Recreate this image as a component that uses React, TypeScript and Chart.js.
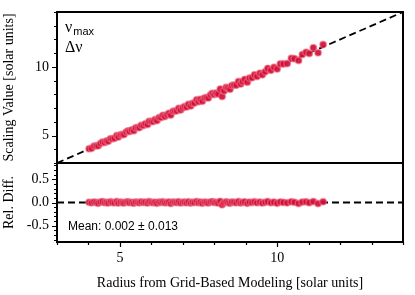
import React, { useEffect, useRef } from 'react';
import { Chart, registerables } from 'chart.js';

Chart.register(...registerables);

// Radius from grid-based modeling [solar units]
const gridRadius = [
  4.02, 4.10, 4.18, 4.25, 4.31, 4.38, 4.45, 4.52, 4.58, 4.63, 4.70, 4.76, 4.83, 4.90, 4.95,
  5.02, 5.08, 5.13, 5.20, 5.26, 5.31, 5.38, 5.44, 5.50, 5.57, 5.62, 5.68, 5.75, 5.81, 5.88, 5.93,
  6.00, 6.06, 6.12, 6.18, 6.25, 6.31, 6.37, 6.43, 6.50, 6.56, 6.62, 6.69, 6.75, 6.81, 6.87, 6.93,
  7.00, 7.06, 7.12, 7.18, 7.25, 7.31, 7.37, 7.44, 7.50, 7.56, 7.62, 7.69, 7.75, 7.81, 7.88, 7.94,
  8.00, 8.06, 8.12, 8.19, 8.25, 8.31, 8.38, 8.44, 8.50, 8.56, 8.63, 8.70, 8.77, 8.84, 8.90, 8.97,
  9.05, 9.12, 9.20, 9.28, 9.36, 9.45, 9.53, 9.62, 9.70, 9.80, 9.90,
  10.00, 10.10, 10.20, 10.32, 10.45, 10.55, 10.68, 10.80, 10.92, 11.02, 11.15, 11.30, 11.46,
];

// Scaling value [solar units]
const scalingValue = [
  4.04, 4.07, 4.23, 4.25, 4.25, 4.42, 4.53, 4.50, 4.61, 4.58, 4.77, 4.77, 4.80, 5.00, 4.89,
  5.06, 5.08, 5.08, 5.26, 5.34, 5.29, 5.41, 5.35, 5.56, 5.59, 5.58, 5.75, 5.74, 5.86, 5.81, 6.04,
  6.02, 6.03, 6.16, 6.09, 6.32, 6.32, 6.47, 6.38, 6.51, 6.62, 6.49, 6.77, 6.78, 6.80, 6.99, 6.86,
  7.02, 7.12, 7.08, 7.28, 7.16, 7.35, 7.37, 7.60, 7.47, 7.64, 7.50, 7.74, 7.77, 7.74, 7.97, 8.08,
  7.99, 8.10, 8.03, 8.39, 7.84, 8.25, 8.51, 8.46, 8.38, 8.65, 8.68, 8.67, 8.94, 8.75, 8.94, 9.09,
  8.89, 9.19, 9.21, 9.43, 9.30, 9.54, 9.42, 9.65, 9.89, 9.75, 9.97,
  9.85, 10.22, 10.22, 10.24, 10.63, 10.60, 10.47, 10.90, 11.07, 10.98, 11.40, 11.03, 11.63,
];

// Relative difference
const relDiff = [
  0.004, -0.008, 0.012, 0.001, -0.015, 0.009, 0.018, -0.004, 0.006, -0.011, 0.014, 0.002, -0.006, 0.020, -0.013,
  0.007, 0.000, -0.009, 0.011, 0.016, -0.003, 0.005, -0.017, 0.010, 0.003, -0.007, 0.013, -0.001, 0.008, -0.012, 0.019,
  0.004, -0.005, 0.006, -0.014, 0.011, 0.002, 0.015, -0.008, 0.001, 0.009, -0.019, 0.012, 0.005, -0.002, 0.017, -0.010,
  0.003, 0.008, -0.006, 0.014, -0.013, 0.006, 0.000, 0.021, -0.004, 0.010, -0.016, 0.007, 0.003, -0.009, 0.012, 0.018,
  -0.001, 0.005, -0.011, 0.024, -0.050, -0.007, 0.015, 0.002, -0.014, 0.011, 0.006, -0.003, 0.019, -0.010, 0.004, 0.013,
  -0.018, 0.008, 0.001, 0.016, -0.006, 0.010, -0.012, 0.003, 0.020, -0.005, 0.007,
  -0.015, 0.012, 0.002, -0.008, 0.017, 0.005, -0.020, 0.009, 0.014, -0.004, 0.022, -0.024, 0.015,
];

const xRange = [3, 14];
const yRange = [3, 14];
const relRange = [-0.85, 0.85];
const xTickValues = [3, 4, 5, 6, 7, 8, 9, 10, 11, 12, 13, 14];
const yTickValues = [3, 4, 5, 6, 7, 8, 9, 10, 11, 12, 13, 14];
const relTickValues = [-0.8, -0.7, -0.6, -0.5, -0.4, -0.3, -0.2, -0.1, 0, 0.1, 0.2, 0.3, 0.4, 0.5, 0.6, 0.7, 0.8];
const xLabelTicks = [5, 10];
const yLabelTicks = [5, 10];
const relLabelTicks = [-0.5, 0, 0.5];
const identityLine = [3, 14];
const zeroLine = [3, 14];

const xTitle = 'Radius from Grid-Based Modeling [solar units]';
const yTitle = 'Scaling Value [solar units]';
const relTitle = 'Rel. Diff.';
const meanText = 'Mean: 0.002 ± 0.013';

const SERIF = '"Liberation Serif", "Times New Roman", serif';
const SANS = '"Liberation Sans", Arial, sans-serif';
const POINT_FILL = 'rgba(212, 14, 52, 0.92)';
const POINT_EDGE = 'rgba(238, 120, 145, 0.55)';

const framePlugin = {
  id: 'framePlugin',
  afterDraw(chart: any) {
    const ctx = chart.ctx as CanvasRenderingContext2D;
    const { left, right } = chart.chartArea;
    const x = chart.scales.x;
    const y = chart.scales.y;
    const yr = chart.scales.yr;
    ctx.save();
    // tick marks
    ctx.strokeStyle = '#000';
    ctx.lineWidth = 1.2;
    ctx.beginPath();
    for (const v of yTickValues) {
      const p = Math.round(y.getPixelForValue(v)) + 0.5;
      const len = yLabelTicks.includes(v) ? 5 : 3;
      ctx.moveTo(left, p);
      ctx.lineTo(left - len, p);
    }
    for (const v of relTickValues) {
      const p = Math.round(yr.getPixelForValue(v)) + 0.5;
      const len = relLabelTicks.includes(v) ? 5 : 3;
      ctx.moveTo(left, p);
      ctx.lineTo(left - len, p);
    }
    for (const v of xTickValues) {
      const p = Math.round(x.getPixelForValue(v)) + 0.5;
      const len = xLabelTicks.includes(v) ? 5 : 3;
      ctx.moveTo(p, yr.bottom);
      ctx.lineTo(p, yr.bottom + len);
    }
    ctx.stroke();
    // frames
    ctx.lineWidth = 2;
    ctx.strokeRect(left, y.top, right - left, y.bottom - y.top);
    ctx.strokeRect(left, yr.top, right - left, yr.bottom - yr.top);
    // legend text
    ctx.fillStyle = '#000';
    ctx.textBaseline = 'alphabetic';
    ctx.textAlign = 'left';
    ctx.font = `16px ${SERIF}`;
    ctx.fillText('ν', left + 8, y.top + 20);
    const nuW = ctx.measureText('ν').width;
    ctx.font = `11px ${SANS}`;
    ctx.fillText('max', left + 8 + nuW + 1, y.top + 23);
    ctx.font = `16px ${SERIF}`;
    ctx.fillText('Δν', left + 8, y.top + 40);
    // mean text
    ctx.font = `12px ${SANS}`;
    ctx.textBaseline = 'middle';
    ctx.fillText(meanText, left + 11, yr.bottom - 15);
    ctx.restore();
  },
};

export default function App() {
  const canvasRef = useRef<HTMLCanvasElement | null>(null);

  useEffect(() => {
    const canvas = canvasRef.current;
    if (!canvas) return;
    const topPoints = gridRadius.map((r, i) => ({ x: r, y: scalingValue[i] }));
    const relPoints = gridRadius.map((r, i) => ({ x: r, y: relDiff[i] }));

    const pointStyle = {
      pointRadius: 3.3,
      pointBackgroundColor: POINT_FILL,
      pointBorderColor: POINT_EDGE,
      pointBorderWidth: 1.4,
      order: 1,
    };

    const chart = new Chart(canvas, {
      type: 'scatter',
      data: {
        datasets: [
          { data: topPoints, xAxisID: 'x', yAxisID: 'y', ...pointStyle },
          { data: relPoints, xAxisID: 'x', yAxisID: 'yr', ...pointStyle },
          {
            type: 'line',
            data: identityLine.map((v) => ({ x: v, y: v })),
            xAxisID: 'x',
            yAxisID: 'y',
            borderColor: '#000',
            borderWidth: 1.8,
            borderDash: [7, 4],
            pointRadius: 0,
            fill: false,
            order: 2,
          } as any,
          {
            type: 'line',
            data: zeroLine.map((v) => ({ x: v, y: 0 })),
            xAxisID: 'x',
            yAxisID: 'yr',
            borderColor: '#000',
            borderWidth: 1.8,
            borderDash: [7, 4],
            pointRadius: 0,
            fill: false,
            order: 2,
          } as any,
        ],
      },
      options: {
        responsive: false,
        animation: false,
        events: [],
        layout: { padding: { left: 0, top: 12, right: 12, bottom: 0 } },
        plugins: { legend: { display: false }, tooltip: { enabled: false } },
        scales: {
          x: {
            type: 'linear',
            position: 'bottom',
            min: xRange[0],
            max: xRange[1],
            afterBuildTicks: (s: any) => {
              s.ticks = xTickValues.map((v) => ({ value: v }));
            },
            afterFit: (s: any) => {
              s.height = 53;
            },
            ticks: {
              autoSkip: false,
              maxRotation: 0,
              padding: 3,
              color: '#000',
              font: { family: SERIF, size: 14 },
              callback: (v: any) => (xLabelTicks.includes(Number(v)) ? String(v) : ''),
            },
            grid: { display: true, drawOnChartArea: false, drawTicks: true, tickLength: 5, color: 'rgba(0,0,0,0)' },
            border: { display: false },
            title: {
              display: true,
              text: xTitle,
              color: '#000',
              font: { family: SERIF, size: 14 },
              padding: { top: 0, bottom: 3 },
            },
          },
          y: {
            type: 'linear',
            position: 'left',
            stack: 'panels',
            stackWeight: 151,
            weight: 1,
            min: yRange[0],
            max: yRange[1],
            afterBuildTicks: (s: any) => {
              s.ticks = yTickValues.map((v) => ({ value: v }));
            },
            afterFit: (s: any) => {
              s.width = 57;
            },
            ticks: {
              autoSkip: false,
              padding: 3,
              color: '#000',
              font: { family: SERIF, size: 14 },
              callback: (v: any) => (yLabelTicks.includes(Number(v)) ? String(v) : ''),
            },
            grid: { display: true, drawOnChartArea: false, drawTicks: true, tickLength: 5, color: 'rgba(0,0,0,0)' },
            border: { display: false },
            title: {
              display: true,
              text: yTitle,
              color: '#000',
              font: { family: SERIF, size: 14 },
              padding: { top: 1, bottom: 0 },
            },
          },
          yr: {
            type: 'linear',
            position: 'left',
            stack: 'panels',
            stackWeight: 79,
            weight: 0,
            min: relRange[0],
            max: relRange[1],
            afterBuildTicks: (s: any) => {
              s.ticks = relTickValues.map((v) => ({ value: v }));
            },
            afterFit: (s: any) => {
              s.width = 57;
            },
            ticks: {
              autoSkip: false,
              padding: 3,
              color: '#000',
              font: { family: SERIF, size: 14 },
              callback: (v: any) => (relLabelTicks.includes(Number(v)) ? Number(v).toFixed(1) : ''),
            },
            grid: { display: true, drawOnChartArea: false, drawTicks: true, tickLength: 5, color: 'rgba(0,0,0,0)' },
            border: { display: false },
            title: {
              display: true,
              text: relTitle,
              color: '#000',
              font: { family: SERIF, size: 14 },
              padding: { top: 1, bottom: 0 },
            },
          },
        },
      } as any,
      plugins: [framePlugin],
    });

    return () => {
      chart.destroy();
    };
  }, []);

  return (
    <div style={{ position: 'absolute', left: 0, top: 0, width: 415, height: 295, background: '#fff' }}>
      <canvas ref={canvasRef} width={415} height={295} style={{ display: 'block' }} />
    </div>
  );
}
